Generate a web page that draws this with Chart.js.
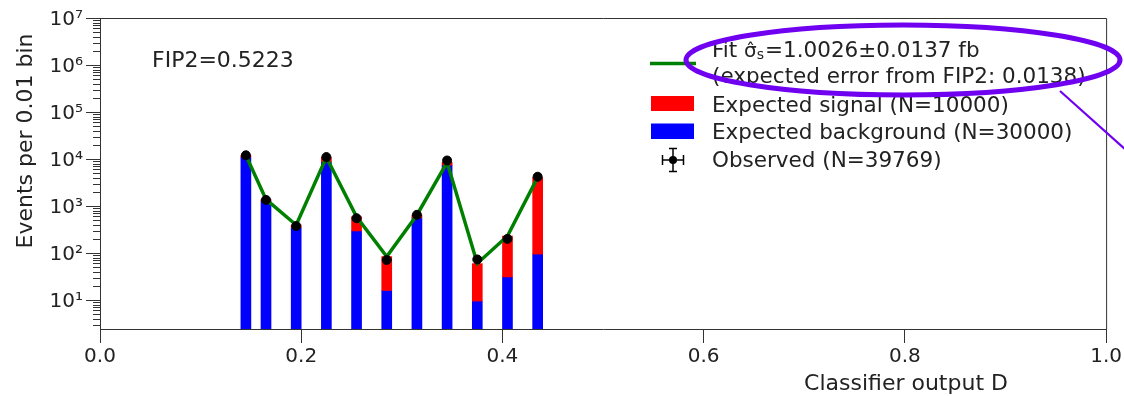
<!DOCTYPE html>
<html>
<head>
<meta charset="utf-8">
<script src="https://cdn.jsdelivr.net/npm/chart.js@4.4.1/dist/chart.umd.min.js"></script>
<style>
  html, body { margin: 0; padding: 0; background: #fff; }
  #wrap { width: 1124px; height: 396px; }
</style>
</head>
<body>
<div id="wrap"><canvas id="dChart" width="1124" height="396"></canvas></div>
<script>
// classifier output D, bins 0.01 wide (centres)
const binCenters = [0.145, 0.165, 0.195, 0.225, 0.255, 0.285, 0.315, 0.345, 0.375, 0.405, 0.435];
const background = [11000, 1280, 350, 8700, 295, 16, 560, 7400, 9.5, 31, 95];
const signal = [1000, 100, 45, 2200, 295, 68, 85, 1100, 50, 199, 3975];
const observed = [12000, 1350, 375, 11000, 550, 71, 650, 9300, 73, 200, 4200];
const fitTotal = [12000, 1380, 395, 10900, 590, 84, 645, 8500, 60, 230, 4070];
const yTicks = [10, 100, 1e3, 1e4, 1e5, 1e6, 1e7];
const yMin = 2.42;
const yMax = 1e7;

const SUP = { '1': '\u00b9', '2': '\u00b2', '3': '\u00b3', '4': '\u2074', '5': '\u2075', '6': '\u2076', '7': '\u2077' };
const FONT = 'DejaVu Sans';
const INK = '#222';

// minor log ticks + top/right frame
const framePlugin = {
  id: 'frame',
  afterDraw(chart) {
    const { ctx, chartArea: a, scales } = chart;
    const y = scales.y;
    ctx.save();
    ctx.strokeStyle = '#333';
    ctx.lineWidth = 1;
    ctx.beginPath();
    ctx.moveTo(a.left, a.top + 0.5);
    ctx.lineTo(a.right + 0.5, a.top + 0.5);
    ctx.lineTo(a.right + 0.5, a.bottom);
    ctx.stroke();
    ctx.beginPath();
    for (let d = 0; d < 7; d++) {
      for (let m = 2; m <= 9; m++) {
        const v = m * Math.pow(10, d);
        if (v < yMin || v > yMax) continue;
        const py = Math.round(y.getPixelForValue(v)) + 0.5;
        ctx.moveTo(a.left - 7, py);
        ctx.lineTo(a.left, py);
      }
    }
    ctx.stroke();
    ctx.restore();
  }
};

// legend, labels, annotation
const textPlugin = {
  id: 'texts',
  afterDraw(chart) {
    const ctx = chart.ctx;
    ctx.save();
    ctx.fillStyle = INK;
    ctx.font = '22px ' + FONT;
    ctx.textBaseline = 'alphabetic';

    ctx.textAlign = 'left';
    ctx.fillText('FIP2=0.5223', 152, 66.5);

    ctx.textAlign = 'center';
    ctx.fillText('Classifier output D', 906, 390);

    ctx.save();
    ctx.translate(32, 141);
    ctx.rotate(-Math.PI / 2);
    ctx.fillText('Events per 0.01 bin', 0, 0);
    ctx.restore();

    // legend
    ctx.font = '21.5px ' + FONT;
    ctx.textAlign = 'left';
    const tx = 712;
    ctx.strokeStyle = '#008000';
    ctx.lineWidth = 3.5;
    ctx.beginPath();
    ctx.moveTo(650, 63.5);
    ctx.lineTo(696, 63.5);
    ctx.stroke();

    let x = tx;
    ctx.fillText('Fit ', x, 57);
    x += ctx.measureText('Fit ').width;
    ctx.font = '20px ' + FONT;
    const sw = ctx.measureText('\u03c3').width;
    ctx.fillText('\u03c3', x, 57);
    ctx.font = '18px ' + FONT;
    ctx.textAlign = 'center';
    ctx.fillText('\u02c6', x + sw / 2, 56);
    ctx.textAlign = 'left';
    ctx.font = '14px ' + FONT;
    ctx.fillText('s', x + sw, 59);
    x += sw + ctx.measureText('s').width + 1;
    ctx.font = '21.5px ' + FONT;
    ctx.fillText('=1.0026\u00b10.0137 fb', x, 57);
    ctx.fillText('(expected error from FIP2: 0.0138)', tx, 83);

    ctx.fillStyle = '#ff0000';
    ctx.fillRect(651, 96, 43, 15);
    ctx.fillStyle = '#0000ff';
    ctx.fillRect(651, 123.5, 43, 15.5);
    ctx.fillStyle = INK;
    ctx.fillText('Expected signal (N=10000)', tx, 111.5);
    ctx.fillText('Expected background (N=30000)', tx, 139);
    ctx.fillText('Observed (N=39769)', tx, 167);

    // observed marker with error bars
    ctx.strokeStyle = '#000';
    ctx.lineWidth = 1.5;
    ctx.beginPath();
    ctx.moveTo(662, 160); ctx.lineTo(684, 160);
    ctx.moveTo(662.5, 155); ctx.lineTo(662.5, 165);
    ctx.moveTo(683.5, 155); ctx.lineTo(683.5, 165);
    ctx.moveTo(673, 148); ctx.lineTo(673, 172);
    ctx.moveTo(669, 148.5); ctx.lineTo(677, 148.5);
    ctx.moveTo(669, 171.5); ctx.lineTo(677, 171.5);
    ctx.stroke();
    ctx.fillStyle = '#000';
    ctx.beginPath();
    ctx.arc(673, 160, 4, 0, Math.PI * 2);
    ctx.fill();

    // purple annotation
    ctx.strokeStyle = '#6f00f0';
    ctx.lineWidth = 5;
    ctx.beginPath();
    ctx.ellipse(903, 60, 217, 35, 0, 0, Math.PI * 2);
    ctx.stroke();
    ctx.lineWidth = 2.2;
    ctx.beginPath();
    ctx.moveTo(1060, 91);
    ctx.lineTo(1126, 150);
    ctx.stroke();
    ctx.restore();
  }
};

const ctxD = document.getElementById('dChart');

new Chart(ctxD, {
  type: 'bar',
  data: {
    datasets: [
      {
        type: 'line',
        label: 'Observed',
        data: binCenters.map((x, i) => ({ x: x, y: observed[i] })),
        showLine: false,
        pointRadius: 4.5,
        pointBackgroundColor: '#000',
        pointBorderColor: '#000',
        order: 1
      },
      {
        type: 'line',
        label: 'Fit',
        data: binCenters.map((x, i) => ({ x: x, y: fitTotal[i] })),
        borderColor: '#008000',
        borderWidth: 3.5,
        pointRadius: 0,
        tension: 0,
        order: 2
      },
      {
        label: 'Expected background',
        data: binCenters.map((x, i) => ({ x: x, y: background[i] })),
        backgroundColor: '#0000ff',
        barThickness: 10,
        grouped: false,
        order: 4
      },
      {
        label: 'Expected signal',
        data: binCenters.map((x, i) => ({ x: x, y: [background[i], background[i] + signal[i]] })),
        backgroundColor: '#ff0000',
        barThickness: 10,
        grouped: false,
        order: 3
      }
    ]
  },
  options: {
    responsive: false,
    animation: false,
    devicePixelRatio: 1,
    layout: { padding: { top: 18, right: 17, left: 0, bottom: 0 } },
    plugins: {
      legend: { display: false },
      tooltip: { enabled: false }
    },
    scales: {
      x: {
        type: 'linear',
        min: 0,
        max: 1,
        offset: false,
        afterFit(scale) { scale.height = 67; },
        ticks: {
          stepSize: 0.2,
          autoSkip: false,
          maxRotation: 0,
          padding: 2,
          color: INK,
          font: { family: FONT, size: 20 },
          callback: v => Number(v).toFixed(1)
        },
        grid: { drawOnChartArea: false, offset: false, tickLength: 14, color: '#333' },
        border: { color: '#333' }
      },
      y: {
        type: 'logarithmic',
        min: yMin,
        max: yMax,
        afterFit(scale) { scale.width = 100; },
        afterBuildTicks(scale) {
          scale.ticks = yTicks.map(v => ({ value: v, major: true }));
        },
        ticks: {
          padding: 3,
          labelOffset: 2,
          color: INK,
          font: { family: FONT, size: 20 },
          callback: v => '10' + SUP[String(Math.round(Math.log10(v)))]
        },
        grid: { drawOnChartArea: false, tickLength: 14, color: '#333' },
        border: { color: '#333' }
      }
    }
  },
  plugins: [framePlugin, textPlugin]
});
</script>
</body>
</html>
